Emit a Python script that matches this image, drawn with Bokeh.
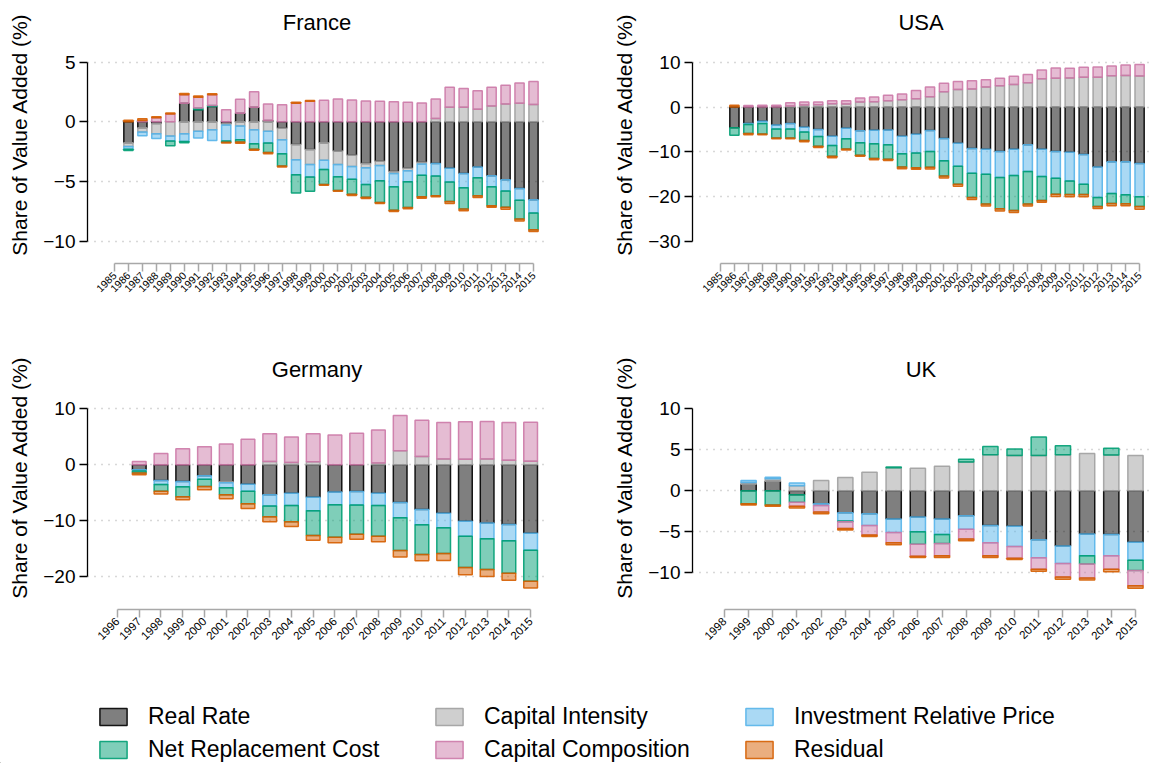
import math
import numpy as np
from bokeh.plotting import figure
from bokeh.models import FixedTicker, Legend, LegendItem, Range1d, Label
from bokeh.layouts import row, column
from bokeh.embed import file_html
from bokeh.resources import INLINE

FONT = "Liberation Sans"

components = ["Real Rate", "Capital Intensity", "Investment Relative Price",
              "Net Replacement Cost", "Capital Composition", "Residual"]
line_colors = ["#000000", "#a0a0a0", "#56b4e9", "#009e73", "#cc79a7", "#d55e00"]

# ---------------- France (1986-2015) ----------------
france_years = list(range(1986, 2016))
france_rr = [-1.75, -0.5, -0.15, 0, 1.55, 1.0, 1.28, -0.17, 0.72, 1.22, 0.1, -0.55, -1.9, -2.33, -1.75,
             -2.44, -2.8, -3.5, -3.3, -4.17, -3.9, -3.4, -3.5, -3.9, -4.33, -3.78, -4.53, -4.86, -5.6, -6.53]
france_ci = [-0.33, -0.36, -0.85, -1.2, -1.0, -0.8, -0.67, -0.1, -0.36, -0.67, -0.8, -0.95, -1.28, -1.25, -1.47,
             -1.14, -0.94, -0.36, -0.36, -0.17, -0.2, -0.14, 0.28, 1.22, 1.22, 1.05, 1.33, 1.5, 1.56, 1.44]
france_irp = [-0.22, -0.3, -0.4, -0.4, -0.65, -0.55, -0.9, -1.35, -1.14, -1.17, -0.97, -1.17, -1.25, -1.05, -0.78,
              -1.03, -1.08, -1.39, -1.28, -1.1, -0.92, -0.94, -1.05, -1.14, -1.2, -0.92, -0.92, -0.94, -0.97, -1.11]
france_nrc = [-0.1, 0, 0, -0.4, -0.1, 0.15, 0.08, -0.1, -0.2, -0.47, -0.8, -1.03, -1.53, -1.2, -1.25,
              -1.14, -1.25, -1.08, -1.83, -1.97, -2.17, -1.8, -1.64, -1.64, -1.78, -1.5, -1.58, -1.36, -1.58, -1.42]
france_cc = [0, 0.1, 0.33, 0.65, 0.72, 0.9, 0.9, 1.0, 1.17, 1.3, 1.39, 1.42, 1.55, 1.72, 1.8,
             1.92, 1.83, 1.75, 1.72, 1.69, 1.64, 1.58, 1.64, 1.67, 1.58, 1.56, 1.56, 1.56, 1.69, 1.94]
france_res = [0.12, 0.15, 0.1, 0.08, 0.1, 0.12, 0.1, -0.05, -0.1, -0.08, -0.1, -0.08, 0.08, 0.06, -0.08,
              -0.08, -0.1, -0.1, -0.08, -0.1, -0.1, -0.13, -0.1, -0.17, -0.14, -0.14, -0.14, -0.17, -0.17, -0.14]

# ---------------- USA (1986-2015) ----------------
usa_years = list(range(1986, 2016))
usa_rr = [-4.6, -3.7, -3.2, -4.0, -3.7, -4.5, -5.0, -6.5, -4.75, -5.3, -5.2, -5.1, -6.5, -6.1, -5.25,
          -7.0, -8.1, -9.25, -9.4, -9.9, -9.4, -8.4, -9.4, -9.9, -10.1, -10.6, -13.4, -12.2, -12.2, -12.6]
usa_ci = [0, 0, 0, 0, 0.2, 0.45, 0.5, 0.75, 0.65, 1.1, 1.2, 1.4, 1.6, 1.85, 2.3,
          3.4, 3.9, 4.0, 4.45, 4.75, 5.0, 5.4, 6.3, 6.4, 6.45, 6.65, 6.65, 6.95, 7.05, 6.9]
usa_irp = [0, -0.2, -0.5, -0.9, -1.2, -1.1, -1.6, -2.1, -2.3, -2.65, -3.0, -3.3, -3.9, -4.15, -4.65,
           -5.0, -5.1, -5.55, -5.6, -5.8, -5.9, -6.0, -6.1, -6.0, -6.4, -6.6, -6.8, -7.1, -7.35, -7.4]
usa_nrc = [-1.7, -2.0, -2.3, -2.0, -2.0, -1.85, -2.15, -2.4, -2.3, -2.8, -3.3, -3.25, -3.0, -3.3, -3.55,
           -3.4, -4.0, -5.4, -6.65, -7.0, -7.8, -7.25, -5.35, -3.55, -3.0, -2.3, -2.0, -2.2, -2.0, -2.2]
usa_cc = [0, 0.35, 0.4, 0.4, 0.75, 0.65, 0.6, 0.65, 0.75, 0.9, 1.05, 1.2, 1.3, 1.85, 2.15,
          1.9, 1.8, 1.85, 1.65, 1.65, 1.85, 1.85, 1.95, 2.3, 2.2, 2.2, 2.3, 2.2, 2.3, 2.6]
usa_res = [0.4, -0.3, -0.2, -0.2, -0.2, -0.3, -0.3, -0.3, -0.25, -0.25, -0.25, -0.3, -0.35, -0.35, -0.35,
           -0.45, -0.45, -0.45, -0.45, -0.5, -0.4, -0.45, -0.4, -0.5, -0.5, -0.5, -0.45, -0.5, -0.45, -0.6]

# ---------------- Germany (1997-2015) ----------------
germany_years = list(range(1997, 2016))
germany_rr = [-0.9, -2.85, -3.0, -2.0, -3.05, -3.5, -5.4, -5.1, -5.85, -4.9, -4.8, -5.1, -6.75, -8.0,
              -8.7, -10.1, -10.45, -10.7, -12.25]
germany_ci = [0, 0, 0, 0, -0.2, 0, 0.55, 0.4, 0.5, 0, 0, 0.3, 2.5, 1.45, 1.0, 0.95, 1.0, 0.8, 0.6]
germany_irp = [-0.25, -0.7, -0.95, -0.6, -0.9, -1.25, -2.0, -2.2, -2.4, -2.25, -2.4, -2.2, -2.75, -2.75,
               -2.6, -2.7, -2.8, -2.9, -3.05]
germany_nrc = [-0.35, -1.2, -1.8, -1.3, -1.25, -2.25, -1.9, -2.9, -4.4, -5.85, -5.25, -5.5, -5.85, -5.3,
               -4.6, -5.6, -5.5, -5.8, -5.55]
germany_cc = [0.55, 2.0, 2.85, 3.2, 3.7, 4.55, 4.95, 4.55, 5.0, 5.3, 5.6, 5.9, 6.3, 6.5, 6.55, 6.7, 6.7, 6.75, 7.0]
germany_res = [-0.3, -0.5, -0.55, -0.6, -0.7, -0.85, -0.9, -0.85, -0.85, -0.95, -0.9, -1.0, -1.15, -1.15,
               -1.25, -1.3, -1.25, -1.25, -1.2]

# ---------------- UK (1999-2015) ----------------
uk_years = list(range(1999, 2016))
uk_rr = [0.8, 1.15, -0.5, -1.6, -2.7, -2.8, -3.45, -3.2, -3.45, -3.05, -4.25, -4.35, -6.0, -6.75, -5.3, -5.35, -6.3]
uk_ci = [0.2, 0.3, 0.6, 1.25, 1.6, 2.25, 2.8, 2.75, 3.0, 3.5, 4.4, 4.3, 4.3, 4.4, 4.55, 4.35, 4.3]
uk_irp = [0.25, 0.2, 0.35, -0.2, -1.0, -1.45, -1.65, -1.8, -1.9, -1.65, -2.1, -2.45, -2.2, -2.15, -2.65, -2.6, -2.2]
uk_nrc = [-1.6, -1.75, -0.9, 0, -0.1, 0, 0.1, -1.55, -1.1, 0.35, 1.0, 0.8, 2.25, 1.1, -1.0, 0.85, -1.25]
uk_cc = [0, 0, -0.5, -0.8, -0.8, -1.15, -1.25, -1.45, -1.5, -1.2, -1.6, -1.45, -1.4, -1.65, -1.7, -1.65, -1.85]
uk_res = [-0.15, -0.15, -0.2, -0.2, -0.2, -0.2, -0.25, -0.15, -0.2, -0.2, -0.2, -0.15, -0.25, -0.25, -0.25, -0.3, -0.3]

france_ticks = list(range(1985, 2016))
usa_ticks = list(range(1985, 2016))
germany_ticks = list(range(1996, 2016))
uk_ticks = list(range(1998, 2016))


def stack(years, series):
    yrs = np.asarray(years, dtype=float)
    pos = np.zeros(len(yrs))
    neg = np.zeros(len(yrs))
    out = []
    for s in series:
        s = np.asarray(s, dtype=float)
        bottom = np.where(s >= 0, pos, neg)
        top = bottom + s
        pos = np.where(s >= 0, top, pos)
        neg = np.where(s < 0, top, neg)
        m = s != 0
        out.append((yrs[m], bottom[m], top[m]))
    return out


def minus(v):
    return str(v).replace("-", "\u2212")


def panel(title, years, series, xr, yr, yticks, gticks, xticks, bar_w, xfs,
          bl, br, bt, bb, fw, fh, title_up):
    p = figure(frame_width=fw, frame_height=fh, x_range=Range1d(*xr), y_range=Range1d(*yr),
               output_backend="svg", toolbar_location=None,
               min_border_left=bl, min_border_right=br, min_border_top=bt, min_border_bottom=bb)
    p.outline_line_color = None

    # panel title, centred in the headroom at the top of the plotting area
    ty = yr[0] + (yr[1] - yr[0]) * title_up / fh
    p.add_layout(Label(x=(xr[0] + xr[1]) / 2, y=ty, text=title,
                       text_align="center", text_baseline="middle",
                       text_font=FONT, text_font_size="22px", text_color="#000000"))

    for (x, b, t), lc in zip(stack(years, series), line_colors):
        p.vbar(x=x, bottom=b, top=t, width=bar_w, fill_color=lc, fill_alpha=0.5,
               line_color=lc, line_width=1.5, line_alpha=0.9)

    ya = p.yaxis[0]
    ya.ticker = FixedTicker(ticks=yticks)
    ya.bounds = (min(yticks), max(yticks))
    ya.major_label_overrides = {t: minus(t) for t in yticks}
    ya.axis_line_color = "#000000"
    ya.axis_line_width = 1.3
    ya.major_tick_line_color = "#000000"
    ya.major_tick_line_width = 1.3
    ya.major_tick_out = 8
    ya.major_tick_in = 0
    ya.minor_tick_line_color = None
    ya.major_label_text_font = FONT
    ya.major_label_text_font_size = "19px"
    ya.major_label_text_color = "#000000"
    ya.major_label_standoff = 4
    ya.axis_label = "Share of Value Added (%)"
    ya.axis_label_text_font = FONT
    ya.axis_label_text_font_size = "21px"
    ya.axis_label_text_font_style = "normal"
    ya.axis_label_text_color = "#000000"
    ya.axis_label_standoff = 9

    xa = p.xaxis[0]
    xa.ticker = FixedTicker(ticks=xticks)
    xa.bounds = (xticks[0], xticks[-1])
    xa.axis_line_color = "#a8a8a8"
    xa.axis_line_width = 1.5
    xa.major_tick_line_color = "#a8a8a8"
    xa.major_tick_line_width = 1.5
    xa.major_tick_out = 8
    xa.major_tick_in = 0
    xa.minor_tick_line_color = None
    xa.major_label_orientation = math.pi / 4
    xa.major_label_text_font = FONT
    xa.major_label_text_font_size = xfs
    xa.major_label_text_color = "#000000"
    xa.major_label_standoff = 2

    p.xgrid.visible = False
    p.ygrid.ticker = FixedTicker(ticks=gticks)
    p.ygrid.grid_line_color = "#b0b0b0"
    p.ygrid.grid_line_width = 1.5
    p.ygrid.grid_line_dash = "1 6"
    return p


fr = panel("France", france_years,
           [france_rr, france_ci, france_irp, france_nrc, france_cc, france_res],
           (1983.07, 2015.93), (-11.88, 9.75), [-10, -5, 0, 5], [-10, -5, 0, 5], france_ticks,
           0.66, "10.5px", 87, 22, 5, 77, 459, 258, 241)
us = panel("USA", usa_years,
           [usa_rr, usa_ci, usa_irp, usa_nrc, usa_cc, usa_res],
           (1983.0, 2015.71), (-34.9, 22.64), [-30, -20, -10, 0, 10], [-20, -10, 0, 10], usa_ticks,
           0.66, "10.5px", 124, 8, 5, 77, 457, 258, 241)
de = panel("Germany", germany_years,
           [germany_rr, germany_ci, germany_irp, germany_nrc, germany_cc, germany_res],
           (1994.62, 2015.73), (-25.9, 21.3), [-20, -10, 0, 10], [-20, -10, 0, 10], germany_ticks,
           0.63, "11.5px", 87, 22, 5, 76, 459, 264, 240)
uk = panel("UK", uk_years,
           [uk_rr, uk_ci, uk_irp, uk_nrc, uk_cc, uk_res],
           (1996.68, 2015.58), (-14.51, 17.74), [-10, -5, 0, 5, 10], [-10, -5, 0, 5], uk_ticks,
           0.63, "11.5px", 124, 8, 5, 76, 457, 264, 240)

# ---------------- Legend ----------------
leg = figure(width=1157, height=78, x_range=Range1d(0, 1), y_range=Range1d(0, 1),
             output_backend="svg", toolbar_location=None,
             x_axis_location=None, y_axis_location=None,
             min_border_left=0, min_border_right=0, min_border_top=0, min_border_bottom=0)
leg.outline_line_color = None
leg.grid.visible = False
rends = []
for lc in line_colors:
    # one placeholder bar outside the visible range: only its legend swatch shows
    rends.append(leg.vbar(x=[-10], bottom=[-10], top=[-9], width=0.1, fill_color=lc, fill_alpha=0.5,
                          line_color=lc, line_width=1.5, line_alpha=0.9))

col_x = [96, 432, 742]
for ci, cx in enumerate(col_x):
    items = [LegendItem(label=components[ci], renderers=[rends[ci]]),
             LegendItem(label=components[ci + 3], renderers=[rends[ci + 3]])]
    lg = Legend(items=items, location=(cx, 0), orientation="vertical",
                glyph_width=34, glyph_height=21, label_standoff=18, spacing=6,
                padding=0, margin=0, border_line_color=None, background_fill_alpha=0,
                label_text_font=FONT, label_text_font_size="23px", label_text_color="#000000",
                label_height=21)
    leg.add_layout(lg)

layout = column(row(fr, us), row(de, uk), leg)

with open("out.html", "w") as f:
    f.write(file_html(layout, INLINE))
